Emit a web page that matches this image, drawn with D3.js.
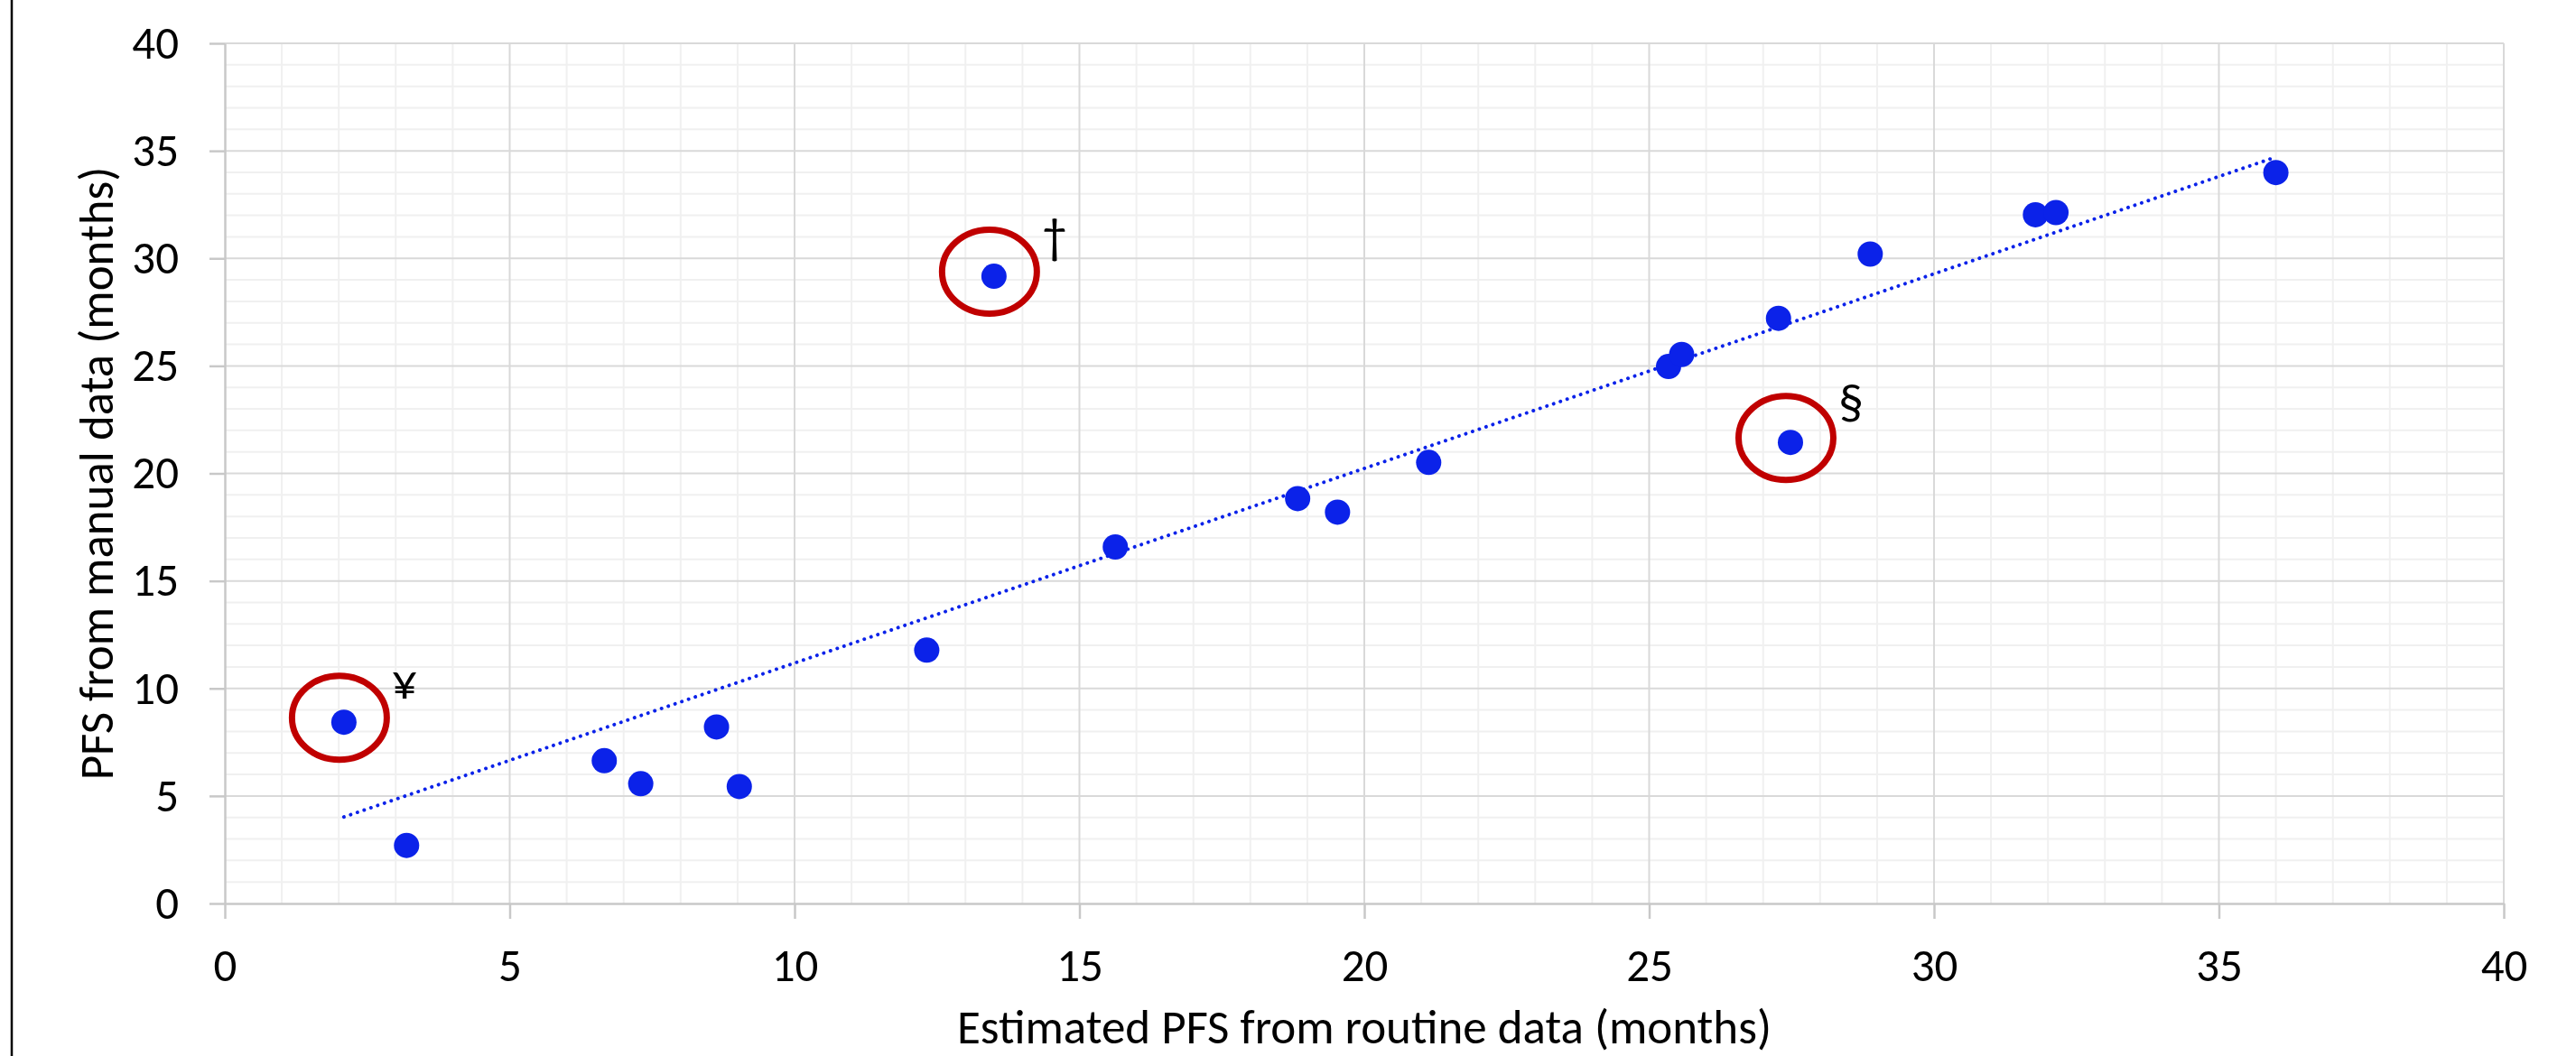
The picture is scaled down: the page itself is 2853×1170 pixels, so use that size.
<!DOCTYPE html>
<html>
<head>
<meta charset="utf-8">
<script src="https://cdn.jsdelivr.net/npm/d3@7"></script>
<style>
  body { margin: 0; background: #fff; }
  svg { display: block; font-family: Carlito, Calibri, "Open Sans", sans-serif; }
</style>
</head>
<body>
<svg id="chart"></svg>
<script>
var width = 2853;
var height = 1170;

// data (months)
var pfsRoutine = [2.09, 3.19, 6.66, 7.30, 8.63, 9.03, 12.32, 13.50, 15.63, 18.83,
                  19.53, 21.13, 25.34, 25.57, 27.27, 27.48, 28.88, 31.78, 32.14, 36.00];
var pfsManual  = [8.43, 2.70, 6.64, 5.57, 8.21, 5.44, 11.78, 29.17, 16.58, 18.83,
                  18.20, 20.51, 24.97, 25.53, 27.21, 21.44, 30.20, 32.03, 32.13, 33.99];

var xTicks = [0, 5, 10, 15, 20, 25, 30, 35, 40];
var yTicks = [0, 5, 10, 15, 20, 25, 30, 35, 40];

// circled outliers: index into the points, and the mark written next to them
var flaggedIndex = [0, 7, 15];
var flaggedMark  = ["¥", "†", "§"];

var xTitle = "Estimated PFS from routine data (months)";
var yTitle = "PFS from manual data (months)";

var plot = {left: 249, right: 2773, top: 48, bottom: 1001};

var points = pfsRoutine.map(function(x, i) { return {x: x, y: pfsManual[i]}; });

var svg = d3.select("#chart")
    .attr("width", width)
    .attr("height", height);

svg.append("rect")
    .attr("width", width)
    .attr("height", height)
    .attr("fill", "#fff");

// black frame edge on the left of the picture
svg.append("line")
    .attr("x1", 13).attr("x2", 13)
    .attr("y1", 0).attr("y2", height)
    .attr("stroke", "#000")
    .attr("stroke-width", 2.5);

var xScale = d3.scaleLinear().domain([0, 40]).range([plot.left, plot.right]);
var yScale = d3.scaleLinear().domain([0, 40]).range([plot.bottom, plot.top]);

// minor grid (every 1 month)
var minor = d3.range(0, 41).filter(function(v) { return v % 5 != 0; });
var grid = svg.append("g").attr("class", "grid");

grid.selectAll("line.vminor").data(minor).enter().append("line")
    .attr("class", "vminor")
    .attr("x1", function(d) { return xScale(d); })
    .attr("x2", function(d) { return xScale(d); })
    .attr("y1", plot.top).attr("y2", plot.bottom)
    .attr("stroke", "#f0f0f0").attr("stroke-width", 2);

grid.selectAll("line.hminor").data(minor).enter().append("line")
    .attr("class", "hminor")
    .attr("y1", function(d) { return yScale(d); })
    .attr("y2", function(d) { return yScale(d); })
    .attr("x1", plot.left).attr("x2", plot.right)
    .attr("stroke", "#f0f0f0").attr("stroke-width", 2);

// major grid
grid.selectAll("line.vmajor").data(xTicks.slice(1)).enter().append("line")
    .attr("class", "vmajor")
    .attr("x1", function(d) { return xScale(d); })
    .attr("x2", function(d) { return xScale(d); })
    .attr("y1", plot.top).attr("y2", plot.bottom)
    .attr("stroke", "#d9d9d9").attr("stroke-width", 2);

grid.selectAll("line.hmajor").data(yTicks.slice(1)).enter().append("line")
    .attr("class", "hmajor")
    .attr("y1", function(d) { return yScale(d); })
    .attr("y2", function(d) { return yScale(d); })
    .attr("x1", plot.left).attr("x2", plot.right)
    .attr("stroke", "#d9d9d9").attr("stroke-width", 2);

// axes
var xAxis = d3.axisBottom(xScale).tickValues(xTicks).tickSize(17).tickPadding(33).tickSizeOuter(0);
var yAxis = d3.axisLeft(yScale).tickValues(yTicks).tickSize(17).tickPadding(34).tickSizeOuter(0);

var gx = svg.append("g")
    .attr("transform", "translate(0," + plot.bottom + ")")
    .call(xAxis);
var gy = svg.append("g")
    .attr("transform", "translate(" + plot.left + ",0)")
    .call(yAxis);

[gx, gy].forEach(function(g) {
    g.select(".domain").attr("stroke", "#c8c8c8").attr("stroke-width", 2.5);
    g.selectAll(".tick line").attr("stroke", "#c8c8c8").attr("stroke-width", 2.5);
    g.selectAll(".tick text")
        .attr("fill", "#000")
        .style("font-family", "Carlito, Calibri, 'Open Sans', sans-serif")
        .style("font-size", "51px");
});

// least squares trend line over the range of the data (as the spreadsheet draws it)
var mx = d3.mean(pfsRoutine);
var my = d3.mean(pfsManual);
var sxy = d3.sum(points, function(p) { return (p.x - mx) * (p.y - my); });
var sxx = d3.sum(points, function(p) { return (p.x - mx) * (p.x - mx); });
var slope = sxy / sxx;
var intercept = my - slope * mx;
var xExtent = d3.extent(pfsRoutine);

var trendLine = d3.line()
    .x(function(d) { return xScale(d); })
    .y(function(d) { return yScale(intercept + slope * d); });

svg.append("path")
    .datum(xExtent)
    .attr("d", trendLine)
    .attr("fill", "none")
    .attr("stroke", "#0b22e9")
    .attr("stroke-width", 4)
    .attr("stroke-linecap", "round")
    .attr("stroke-dasharray", "0.01 7.9");

// points
svg.append("g").selectAll("circle")
    .data(points)
    .enter().append("circle")
    .attr("cx", function(d) { return xScale(d.x); })
    .attr("cy", function(d) { return yScale(d.y); })
    .attr("r", 14)
    .attr("fill", "#0b22e9");

// red rings and marks around the outliers
var notes = svg.append("g").selectAll("g")
    .data(flaggedIndex)
    .enter().append("g")
    .attr("transform", function(i) {
        return "translate(" + xScale(pfsRoutine[i]) + "," + yScale(pfsManual[i]) + ")";
    });

notes.append("ellipse")
    .attr("cx", -5).attr("cy", -5)
    .attr("rx", 52.5).attr("ry", 46.5)
    .attr("fill", "none")
    .attr("stroke", "#c00000")
    .attr("stroke-width", 7);

notes.append("text")
    .attr("x", 67).attr("y", -26)
    .attr("text-anchor", "middle")
    .style("font-size", "56px")
    .text(function(i, k) { return flaggedMark[k]; });

// axis titles
svg.append("text")
    .attr("x", (plot.left + plot.right) / 2)
    .attr("y", 1156)
    .attr("text-anchor", "middle")
    .style("font-size", "53px")
    .text(xTitle);

svg.append("text")
    .attr("transform", "translate(125," + (plot.top + plot.bottom) / 2 + ") rotate(-90)")
    .attr("text-anchor", "middle")
    .style("font-size", "53px")
    .text(yTitle);
</script>
</body>
</html>
